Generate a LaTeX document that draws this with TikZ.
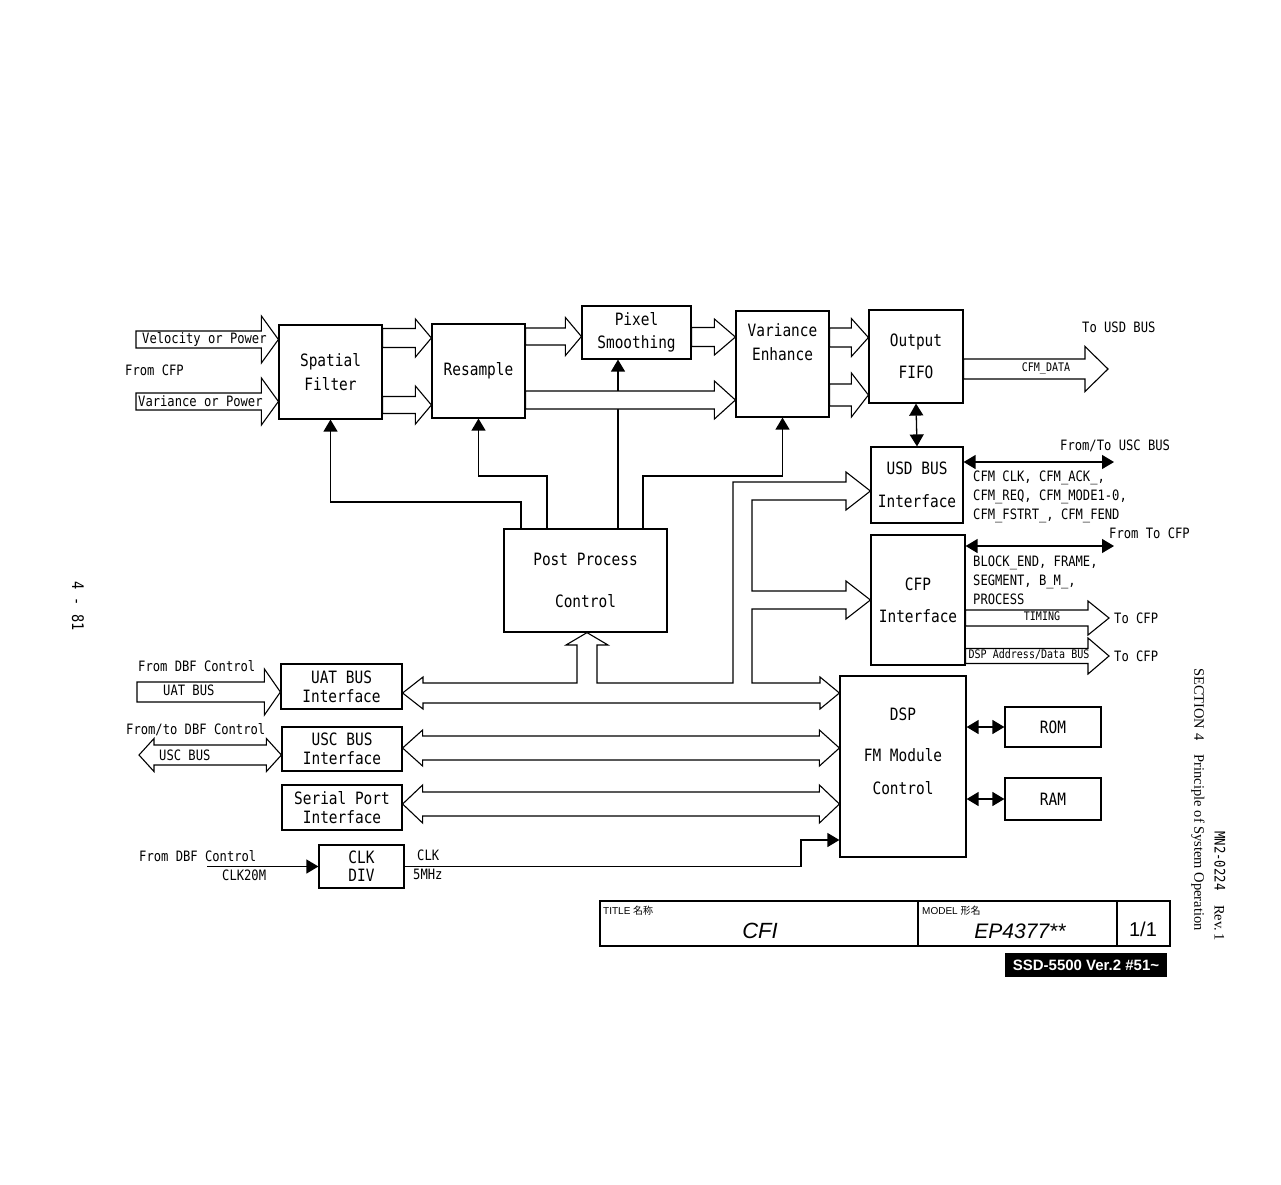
\documentclass[tikz,border=0pt]{standalone}
\usepackage{fontspec}
\usetikzlibrary{arrows.meta,calc}
\newfontfamily\diafont[FakeStretch=0.85]{DejaVu Sans Mono}
\newfontfamily\arialfont{Liberation Sans}
\newfontfamily\srffont{Liberation Serif}
\newfontfamily\cjkfont{Noto Sans CJK JP}

\newcommand{\bxfont}{\diafont\fontsize{17}{22}\selectfont}
\newcommand{\lbfont}{\diafont\fontsize{14.3}{19}\selectfont}
\newcommand{\smfont}{\diafont\fontsize{11.8}{14}\selectfont}

% hollow bus arrow: [opts]{tail}{tip}{shaft half}{head half}{head length}
\newcommand{\busarrow}[6][]{%
  \draw[bus,#1] let \p1=#2, \p2=#3 in
    (\x1,\y2+#4pt) -- (\x2-#6pt,\y2+#4pt) -- (\x2-#6pt,\y2+#5pt) -- (\x2,\y2)
    -- (\x2-#6pt,\y2-#5pt) -- (\x2-#6pt,\y2-#4pt) -- (\x1,\y2-#4pt) -- cycle;}
% same with a head at both ends: {left tip}{right tip}
\newcommand{\dbusarrow}[6][]{%
  \draw[bus,#1] let \p1=#2, \p2=#3 in
    (\x1,\y1) -- (\x1+#6pt,\y1+#5pt) -- (\x1+#6pt,\y1+#4pt) -- (\x2-#6pt,\y1+#4pt)
    -- (\x2-#6pt,\y1+#5pt) -- (\x2,\y1) -- (\x2-#6pt,\y1-#5pt) -- (\x2-#6pt,\y1-#4pt)
    -- (\x1+#6pt,\y1-#4pt) -- (\x1+#6pt,\y1-#5pt) -- cycle;}

\begin{document}
\begin{tikzpicture}[x=1pt,y=-1pt,
  box/.style={draw,line width=1.2pt,inner sep=0pt,align=center,font=\bxfont},
  bus/.style={draw,line width=1.1pt,fill=white,line join=miter},
  sig/.style={line width=1.3pt,-{Triangle[length=12pt,width=14pt]}},
  sigboth/.style={line width=1.3pt,{Triangle[length=12pt,width=14pt]}-{Triangle[length=12pt,width=14pt]}},
  lbl/.style={inner sep=0pt,font=\lbfont},
  sml/.style={inner sep=0pt,font=\smfont}]
\useasboundingbox (0,0) rectangle (1281,1184);

% processing chain
\node[box,minimum width=103pt,minimum height=94pt] (spf) at (330.5,372) {Spatial\\[2pt]Filter};
\node[box,minimum width=93pt,minimum height=94pt] (res) at (478.5,371) {Resample};
\node[box,minimum width=109pt,minimum height=53pt] (pix) at (636.5,332.5) {Pixel\\[1pt]Smoothing};
\node[box,minimum width=93pt,minimum height=106pt] (ve) at (782.5,364) {};
\node[inner sep=0pt,align=center,font=\bxfont] (vetxt) at (782.5,342) {Variance\\[2pt]Enhance};
\node[box,minimum width=94pt,minimum height=93pt] (fifo) at (916,356.5) {Output\\[10pt]FIFO};
\node[box,minimum width=92pt,minimum height=76pt] (usd) at (917,485) {USD BUS\\[11pt]Interface};
\node[box,minimum width=94pt,minimum height=130pt] (cfp) at (918,600) {CFP\\[10pt]Interface};
\node[box,minimum width=163pt,minimum height=103pt] (ppc) at (585.5,580.5) {Post Process\\[20pt]Control};

% interfaces and DSP
\node[box,minimum width=121pt,minimum height=45pt] (uat) at (341.5,686.5) {UAT BUS\\[-3pt]Interface};
\node[box,minimum width=120pt,minimum height=44pt] (usc) at (342,749) {USC BUS\\[-3pt]Interface};
\node[box,minimum width=120pt,minimum height=45pt] (ser) at (342,807.5) {Serial Port\\[-3pt]Interface};
\node[box,minimum width=85pt,minimum height=43pt] (clk) at (361.5,866.5) {CLK\\[-4pt]DIV};
\node[box,minimum width=126pt,minimum height=181pt] (dsp) at (903,766.5) {};
\node[inner sep=0pt,align=center,font=\bxfont] (dsptxt) at (903,751) {DSP\\[19pt]FM Module\\[11pt]Control};
\node[box,minimum width=96pt,minimum height=40pt] (rom) at (1053,727) {ROM};
\node[box,minimum width=96pt,minimum height=42pt] (ram) at (1053,799) {RAM};

% control lines
\draw[sig] (521,0 |- ppc.north) -- (521,502) -| (spf.south);
\draw[sig] (547,0 |- ppc.north) -- (547,476) -| (res.south);
\draw[sig] (618,0 |- ppc.north) -- (618,0 |- pix.south);
\draw[sig] (643,0 |- ppc.north) -- (643,476) -| (ve.south);
\draw[sigboth] (fifo.south) -- (usd.north);
\coordinate (uscbus) at (1114,462);
\draw[sigboth] (usd.east |- uscbus) -- (uscbus);
\coordinate (cfpbus) at (1114,546);
\draw[sigboth] (cfp.east |- cfpbus) -- (cfpbus);
\foreach \m in {rom,ram}
  \draw[sigboth] (dsp.east |- \m.west) -- (\m.west);
\draw[sig] (clk.east) -- (801,0 |- clk.east) |- (dsp.west |- 0,840);
\coordinate (clkin) at (207,866.5);
\draw[sig] (clkin) -- (clk.west);

% data buses
\coordinate (velin) at (136,339.5);
\coordinate (varin) at (136,401.5);
\busarrow{(velin)}{(spf.west |- velin)}{8.5}{23.5}{17}
\busarrow{(varin)}{(spf.west |- varin)}{8.5}{23.5}{17}
\busarrow{(spf.east |- 0,338)}{(res.west |- 0,338)}{9.5}{19}{16}
\busarrow{(spf.east |- 0,405)}{(res.west |- 0,405)}{8.5}{19}{16}
\busarrow{(res.east |- 0,336.5)}{(pix.west |- 0,336.5)}{8.5}{19}{16}
\busarrow{(res.east |- 0,400)}{(ve.west |- 0,400)}{9}{19}{21}
\busarrow{(pix.east |- 0,337)}{(ve.west |- 0,337)}{9.5}{18}{21}
\busarrow{(ve.east |- 0,337.5)}{(fifo.west |- 0,337.5)}{9.5}{19}{17}
\busarrow{(ve.east |- 0,395)}{(fifo.west |- 0,395)}{11}{22}{17}
\coordinate (usdout) at (1108,369);
\busarrow{(fifo.east |- usdout)}{(usdout)}{10}{22.5}{23}
\coordinate (cfpout1) at (1109,618);
\coordinate (cfpout2) at (1109,656);
\busarrow{(cfp.east |- cfpout1)}{(cfpout1)}{8}{17}{21}
\busarrow{(cfp.east |- cfpout2)}{(cfpout2)}{7.5}{18}{21}
\coordinate (uatin) at (137,692);
\busarrow{(uatin)}{(uat.west |- uatin)}{10}{23}{16}
\coordinate (uscin) at (139,755);
\dbusarrow{(uscin)}{(usc.west |- uscin)}{10}{16.5}{15}
\dbusarrow{(usc.east |- 0,748)}{(dsp.west |- 0,748)}{12}{18}{20}
\dbusarrow{(ser.east |- 0,804)}{(dsp.west |- 0,804)}{12}{19}{20}
\draw[bus] (uat.east |- 0,693) -- (423,677) -- (423,683) -- (577,683) -- (577,645)
  -- (566,645) -- (587,0 |- ppc.south) -- (608,645) -- (597,645) -- (597,683)
  -- (733,683) -- (733,482) -- (846,482) -- (846,472) -- (usd.west |- 0,491)
  -- (846,510) -- (846,500) -- (752,500) -- (752,591) -- (846,591) -- (846,581)
  -- (cfp.west |- 0,600) -- (846,619) -- (846,609) -- (752,609) -- (752,683)
  -- (820,683) -- (820,677) -- (dsp.west |- 0,693) -- (820,709) -- (820,703)
  -- (423,703) -- (423,709) -- cycle;

% labels
\node[lbl,anchor=west] (vellbl) at (142,339.5) {Velocity or Power};
\node[lbl,anchor=west] (varlbl) at (138,401) {Variance or Power};
\node[lbl,anchor=west] (cfplbl) at (125,370) {From CFP};
\node[lbl,anchor=west] (usdlbl) at (1082,327) {To USD BUS};
\node[sml] (datalbl) at (1046,369) {CFM\_DATA};
\node[lbl,anchor=west] (usclbl) at (1060,446) {From/To USC BUS};
\node[lbl,anchor=north west,align=left] (cfmlbl) at (973,471) {CFM CLK, CFM\_ACK\_,\\CFM\_REQ, CFM\_MODE1-0,\\CFM\_FSTRT\_, CFM\_FEND};
\node[lbl,anchor=west] (tocfplbl) at (1109,533) {From To CFP};
\node[lbl,anchor=north west,align=left] (blklbl) at (973,556) {BLOCK\_END, FRAME,\\SEGMENT, B\_M\_,\\PROCESS};
\node[sml] (timlbl) at (1042,616) {TIMING};
\node[lbl,anchor=west] (out1lbl) at (1114,618) {To CFP};
\node[sml] (adrlbl) at (1029,655) {DSP Address/Data BUS};
\node[lbl,anchor=west] (out2lbl) at (1114,656) {To CFP};
\node[lbl,anchor=west] (dbf1lbl) at (138,666) {From DBF Control};
\node[lbl,anchor=west] (uatlbl) at (163,690) {UAT BUS};
\node[lbl,anchor=west] (dbf2lbl) at (126,730) {From/to DBF Control};
\node[lbl,anchor=west] (usclbl2) at (159,755) {USC BUS};
\node[lbl,anchor=west] (dbf3lbl) at (139,856) {From DBF Control};
\node[lbl,anchor=west] (c20lbl) at (222,875) {CLK20M};
\node[lbl,anchor=west] (clklbl) at (417,855) {CLK};
\node[lbl,anchor=west] (mhzlbl) at (413,874) {5MHz};

% title block
\draw[line width=1.4pt] (600,901) rectangle (1170,946);
\draw[line width=1.2pt] (918,901) -- (918,946) (1117,901) -- (1117,946);
\node[anchor=west,inner sep=0pt,font=\arialfont\fontsize{10}{12}\selectfont] (ttl) at (603,911) {TITLE {\cjkfont 名称}};
\node[inner sep=0pt,font=\arialfont\itshape\fontsize{22}{24}\selectfont] (cfi) at (760,931) {CFI};
\node[anchor=west,inner sep=0pt,font=\arialfont\fontsize{10}{12}\selectfont] (mdl) at (922,911) {MODEL {\cjkfont 形名}};
\node[inner sep=0pt,font=\arialfont\itshape\fontsize{21}{24}\selectfont] (ep) at (1020,931) {EP4377**};
\node[inner sep=0pt,font=\arialfont\fontsize{20}{22}\selectfont] (pg) at (1143,929) {1/1};
\node[fill=black,text=white,minimum width=162pt,minimum height=24pt,inner sep=0pt,font=\arialfont\bfseries\fontsize{15}{16}\selectfont] (ssd) at (1086,965) {SSD-5500 Ver.2 \#51\textasciitilde};

% margins
\node[rotate=-90,anchor=west,inner sep=0pt,font=\srffont\fontsize{14.5}{16}\selectfont] (sect) at (1198,668) {SECTION 4\quad Principle of System Operation};
\node[rotate=-90,anchor=east,inner sep=0pt,font=\srffont\fontsize{14.5}{16}\selectfont] (rev) at (1220,941) {{\diafont MN2-0224}\quad Rev.\,1};
\node[rotate=-90,inner sep=0pt,font=\diafont\fontsize{16}{18}\selectfont] (pgno) at (78,606) {4 - 81};
\end{tikzpicture}
\end{document}
